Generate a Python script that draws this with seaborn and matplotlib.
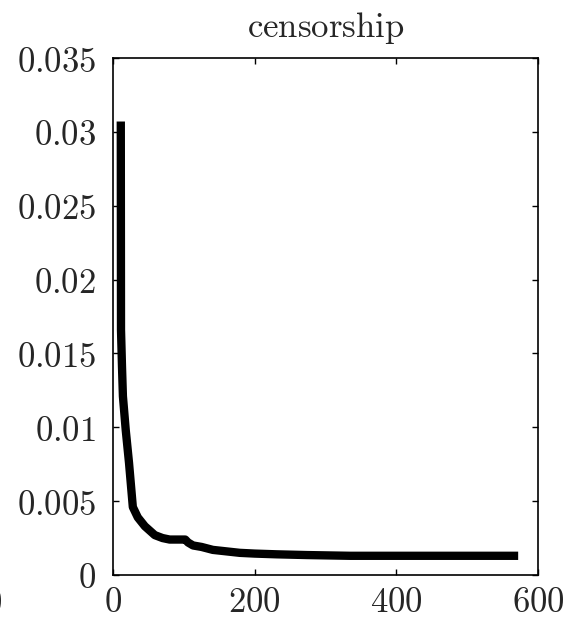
import matplotlib
matplotlib.use("Agg")
import matplotlib.pyplot as plt
import seaborn as sns
import pandas as pd
from matplotlib.ticker import FixedLocator, FixedFormatter

sns.set_style("ticks")
plt.rcParams["mathtext.fontset"] = "cm"
plt.rcParams["font.family"] = ["DejaVu Serif"]

title = "censorship"
iters = [11, 11.3, 12.7, 14, 18, 22.6, 28, 35, 45, 59, 70, 80, 102, 106, 113, 125,
         141, 160, 179, 200, 231, 274, 335, 400, 450, 500, 572]
values = [0.0307, 0.0166, 0.0141, 0.0121, 0.0098, 0.0076, 0.0046, 0.0039, 0.0033,
          0.0027, 0.0025, 0.0024, 0.0024, 0.0022, 0.0020, 0.0019, 0.0017, 0.0016,
          0.0015, 0.00145, 0.0014, 0.00135, 0.0013, 0.0013, 0.0013, 0.0013, 0.0013]
xticks = [0, 200, 400, 600]
xtick_labels = ["0", "200", "400", "600"]
yticks = [0, 0.005, 0.01, 0.015, 0.02, 0.025, 0.03, 0.035]
ytick_labels = ["0", "0.005", "0.01", "0.015", "0.02", "0.025", "0.03", "0.035"]

df = pd.DataFrame({"iter": iters, "value": values})

fig = plt.figure(figsize=(5.71, 6.23), dpi=100)
ax = fig.add_axes([113/571, 1-575/623, (538-113)/571, (575-58)/623])

sns.lineplot(data=df, x="iter", y="value", ax=ax, color="black", linewidth=6,
             estimator=None, sort=False, solid_capstyle="butt")

ax.set_xlim(0, 600)
ax.set_ylim(0, 0.035)
ax.xaxis.set_major_locator(FixedLocator(xticks))
ax.xaxis.set_major_formatter(FixedFormatter([f"${t}$" for t in xtick_labels]))
ax.yaxis.set_major_locator(FixedLocator(yticks))
ax.yaxis.set_major_formatter(FixedFormatter([f"${t}$" for t in ytick_labels]))
ax.set_xlabel("")
ax.set_ylabel("")
ax.tick_params(direction="in", length=4, width=1, top=True, right=True,
               labelsize=25, color="black")
ax.tick_params(axis="y", pad=12)
ax.tick_params(axis="x", pad=7)
for s in ax.spines.values():
    s.set_visible(True)
    s.set_linestyle((0, (1, 1)))
    s.set_linewidth(1.2)
    s.set_color("black")
ax.set_title(r"$\mathrm{" + title + "}$", fontsize=25, pad=15)

fig.text(-7/571, 1-603/623, "$0$", fontsize=25, ha="center", va="center")

fig.savefig("out.png", dpi=100)
